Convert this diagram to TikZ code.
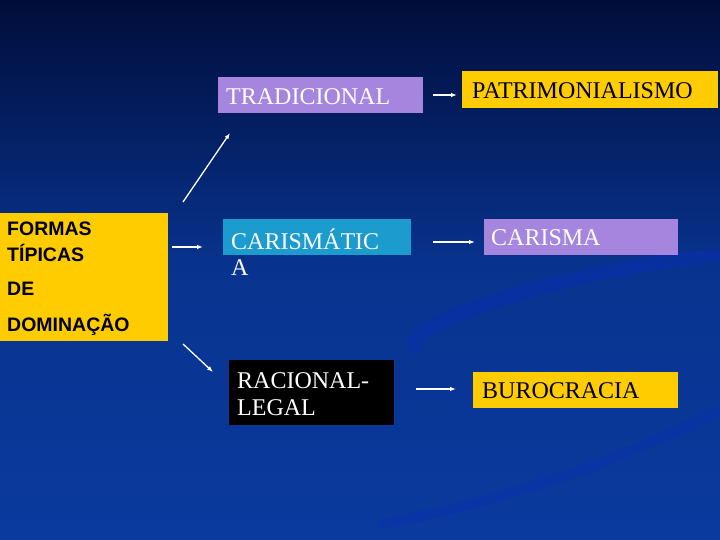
\documentclass[tikz,border=0pt]{standalone}
\usepackage{fontspec}
\setmainfont{Liberation Serif}
\setsansfont{Liberation Sans}
\usetikzlibrary{arrows.meta}
\definecolor{ylw}{HTML}{FFCC00}
\definecolor{lil}{HTML}{A685DF}
\definecolor{cyn}{HTML}{1C9BCF}
\definecolor{bgtop}{HTML}{000D3A}
\definecolor{bgbot}{HTML}{0A3A9E}
\tikzset{
 box/.style={inner sep=0pt, outer sep=0pt},
 serif/.style={font=\fontsize{24}{28}\selectfont, anchor=west, inner sep=0pt},
 sans/.style={font=\sffamily\bfseries\fontsize{19.5}{22}\selectfont, anchor=west, inner sep=0pt},
 arr/.style={draw=white, line width=1.3pt, -{Latex[length=6pt,width=4.5pt]}}
}
\begin{document}
\begin{tikzpicture}[x=1pt,y=-1pt]
\useasboundingbox (0,0) rectangle (720,540);
\shade[top color=bgtop, bottom color=bgbot, middle color=bgbot!85!bgtop] (0,0) rectangle (720,540);
\draw[line width=14pt, blue!20!bgbot, opacity=0.5] (720,255) .. controls (560,270) and (380,330) .. (420,350);
\draw[line width=10pt, blue!20!bgbot, opacity=0.4] (720,410) .. controls (600,470) and (500,500) .. (380,525);
% boxes
\fill[ylw] (0,213) rectangle (168,341); \node[box] (f) at (84,277) {};
\fill[lil] (218,77) rectangle (423,113); \node[box] (t) at (320,95) {};
\fill[cyn] (223,219) rectangle (411,255); \node[box] (c) at (317,237) {};
\fill[black] (229,360) rectangle (394,425); \node[box] (r) at (311,392) {};
\fill[ylw] (462,71) rectangle (718,108); \node[box] (p) at (590,90) {};
\fill[lil] (484,219) rectangle (678,255); \node[box] (cm) at (581,237) {};
\fill[ylw] (473,372) rectangle (678,408); \node[box] (b) at (575,390) {};
% texts
\node[sans] (f1) at (7,229) {FORMAS};
\node[sans] (f2) at (7,253) {TÍPICAS};
\node[sans] (f3) at (7,289) {DE};
\node[sans] (f4) at (7,325) {DOMINAÇÃO};
\node[serif,text=white] (tt) at (226,97) {TRADICIONAL};
\node[serif,text=white] (ct1) at (231,239) {CARISMÁTIC};
\node[serif,text=white] (ct2) at (231,268) {A};
\node[serif,text=white] (rt1) at (237,381) {RACIONAL-};
\node[serif,text=white] (rt2) at (237,408) {LEGAL};
\node[serif] (pt) at (472,91) {PATRIMONIALISMO};
\node[serif,text=white] (cmt) at (491,238) {CARISMA};
\node[serif] (bt) at (482,391) {BUROCRACIA};
% arrows
\coordinate (a1) at (183,202); \coordinate (a1e) at (230,133);
\coordinate (a2) at (172,247); \coordinate (a2e) at (203,247);
\coordinate (a3) at (183,344); \coordinate (a3e) at (213,372);
\coordinate (a4) at (433,95); \coordinate (a4e) at (457,95);
\coordinate (a5) at (433,242); \coordinate (a5e) at (475,242);
\coordinate (a6) at (416,389); \coordinate (a6e) at (456,389);
\draw[arr] (a1) -- (a1e);
\draw[arr] (a2) -- (a2e);
\draw[arr] (a3) -- (a3e);
\draw[arr] (a4) -- (a4e);
\draw[arr] (a5) -- (a5e);
\draw[arr] (a6) -- (a6e);
\end{tikzpicture}
\end{document}
